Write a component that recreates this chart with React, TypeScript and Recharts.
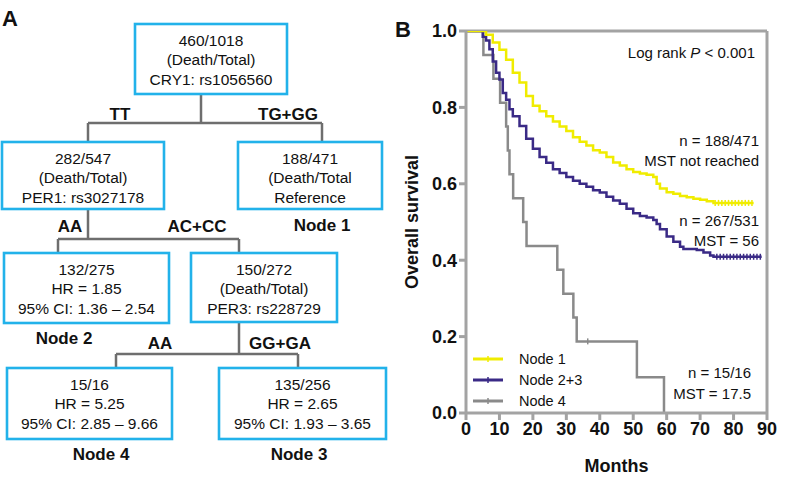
import React from "react";
import {
  ComposedChart,
  Line,
  Scatter,
  XAxis,
  YAxis,
  ReferenceLine,
  Legend,
  Label,
} from "recharts";

const YELLOW = "#f0ec00";
const PURPLE = "#3a2a86";
const GRAY = "#8a8a8a";
const AXIS = "#a3a3a3";
const CYAN = "#22b2ea";
const LINK = "#6e6e6e";
const FONT = "Arial, 'Liberation Sans', sans-serif";

const monthTicks = [0, 10, 20, 30, 40, 50, 60, 70, 80, 90];
const survTicks = [0, 0.2, 0.4, 0.6, 0.8, 1.0];

// Node 1 (TG+GG)
const node1 = [
  { m: 0, v: 1.0 }, { m: 6, v: 0.99 }, { m: 8, v: 0.97 }, { m: 10, v: 0.951 },
  { m: 12, v: 0.925 }, { m: 14, v: 0.891 }, { m: 16, v: 0.865 }, { m: 18, v: 0.83 },
  { m: 20, v: 0.804 }, { m: 22, v: 0.79 }, { m: 24, v: 0.777 }, { m: 26, v: 0.763 },
  { m: 28, v: 0.75 }, { m: 30, v: 0.738 }, { m: 32, v: 0.722 }, { m: 34, v: 0.71 },
  { m: 36, v: 0.7 }, { m: 38, v: 0.688 }, { m: 40, v: 0.682 }, { m: 42, v: 0.67 },
  { m: 44, v: 0.656 }, { m: 46, v: 0.648 }, { m: 48, v: 0.638 }, { m: 50, v: 0.631 },
  { m: 52, v: 0.627 }, { m: 54, v: 0.624 }, { m: 56, v: 0.618 }, { m: 57, v: 0.6 },
  { m: 58, v: 0.588 }, { m: 60, v: 0.578 }, { m: 62, v: 0.574 }, { m: 64, v: 0.568 },
  { m: 66, v: 0.565 }, { m: 68, v: 0.561 }, { m: 70, v: 0.558 }, { m: 72, v: 0.554 },
  { m: 74, v: 0.55 }, { m: 86, v: 0.55 },
];
const node1Censor = [74.5, 75.5, 76.5, 77.5, 78.5, 79.5, 80.5, 81.5, 82.5, 83.5, 84.5, 85.5].map((m) => ({ m, v: 0.55 }));

// Node 2+3
const node23 = [
  { m: 0, v: 1.0 }, { m: 4, v: 1.0 }, { m: 5, v: 0.985 }, { m: 6, v: 0.975 },
  { m: 7, v: 0.952 }, { m: 8, v: 0.92 }, { m: 9, v: 0.891 }, { m: 10, v: 0.873 },
  { m: 11, v: 0.838 }, { m: 12, v: 0.82 }, { m: 13, v: 0.795 }, { m: 14, v: 0.777 },
  { m: 16, v: 0.751 }, { m: 18, v: 0.718 }, { m: 20, v: 0.692 }, { m: 22, v: 0.67 },
  { m: 24, v: 0.655 }, { m: 26, v: 0.638 }, { m: 28, v: 0.628 }, { m: 30, v: 0.618 },
  { m: 32, v: 0.608 }, { m: 34, v: 0.6 }, { m: 36, v: 0.592 }, { m: 38, v: 0.583 },
  { m: 40, v: 0.577 }, { m: 42, v: 0.566 }, { m: 44, v: 0.556 }, { m: 46, v: 0.548 },
  { m: 48, v: 0.535 }, { m: 50, v: 0.523 }, { m: 52, v: 0.516 }, { m: 54, v: 0.512 },
  { m: 56, v: 0.505 }, { m: 57, v: 0.495 }, { m: 58, v: 0.481 }, { m: 60, v: 0.462 },
  { m: 62, v: 0.448 }, { m: 64, v: 0.435 }, { m: 65, v: 0.429 }, { m: 69, v: 0.427 },
  { m: 71, v: 0.42 }, { m: 73, v: 0.412 }, { m: 74, v: 0.409 }, { m: 88.4, v: 0.409 },
];
const node23Censor = [75, 76, 77, 78, 79, 80, 81, 82, 83, 84, 85, 86, 87, 88].map((m) => ({ m, v: 0.409 }));

// Node 4
const node4 = [
  { m: 0, v: 1.0 }, { m: 5.2, v: 0.9375 }, { m: 8.2, v: 0.875 }, { m: 10.2, v: 0.8125 },
  { m: 12, v: 0.75 }, { m: 12.5, v: 0.6875 }, { m: 13, v: 0.625 }, { m: 14.1, v: 0.5625 },
  { m: 17.1, v: 0.5 }, { m: 18.1, v: 0.4375 }, { m: 27.3, v: 0.375 }, { m: 29.1, v: 0.3125 },
  { m: 32.1, v: 0.25 }, { m: 33.1, v: 0.1875 }, { m: 51.1, v: 0.09375 }, { m: 59.2, v: 0 },
];
const node4Censor = [{ m: 36.4, v: 0.1875 }];

const legendItems = [
  { name: "Node 1", color: YELLOW },
  { name: "Node 2+3", color: PURPLE },
  { name: "Node 4", color: GRAY },
];

const notes = [
  { text: "n = 188/471", right: 759, cy: 141 },
  { text: "MST not reached", right: 759, cy: 161 },
  { text: "n = 267/531", right: 759, cy: 221 },
  { text: "MST = 56", right: 759, cy: 241 },
  { text: "n = 15/16", right: 751, cy: 373 },
  { text: "MST = 17.5", right: 751, cy: 394 },
];

// decision tree (panel A)
const boxes = [
  { x: 135, y: 24, w: 152, h: 70, lines: ["460/1018", "(Death/Total)", "CRY1: rs1056560"] },
  { x: 2, y: 142, w: 162, h: 67, lines: ["282/547", "(Death/Total)", "PER1: rs3027178"] },
  { x: 238, y: 142, w: 144, h: 67, lines: ["188/471", "(Death/Total", "Reference"] },
  { x: 4, y: 253, w: 165, h: 70, lines: ["132/275", "HR = 1.85", "95% CI: 1.36 \u2013 2.54"] },
  { x: 191, y: 253, w: 146, h: 69, lines: ["150/272", "(Death/Total)", "PER3: rs228729"] },
  { x: 7, y: 368, w: 165, h: 71, lines: ["15/16", "HR = 5.25", "95% CI: 2.85 \u2013 9.66"] },
  { x: 219, y: 368, w: 167, h: 71, lines: ["135/256", "HR = 2.65", "95% CI: 1.93 \u2013 3.65"] },
];

const links = [
  [201, 94, 201, 123], [88, 123, 322, 123], [88, 123, 88, 142], [322, 123, 322, 142],
  [88, 209, 88, 239], [58, 239, 239, 239], [58, 239, 58, 253], [239, 239, 239, 253],
  [239, 322, 239, 354], [116, 354, 298, 354], [116, 354, 116, 368], [298, 354, 298, 368],
];

const branchLabels = [
  { text: "TT", x: 120, cy: 114 },
  { text: "TG+GG", x: 288, cy: 114 },
  { text: "AA", x: 70, cy: 226 },
  { text: "AC+CC", x: 197, cy: 226 },
  { text: "AA", x: 160, cy: 343 },
  { text: "GG+GA", x: 280, cy: 343 },
];

const nodeLabels = [
  { text: "Node 1", x: 322, cy: 225 },
  { text: "Node 2", x: 64, cy: 338 },
  { text: "Node 4", x: 101, cy: 454 },
  { text: "Node 3", x: 299, cy: 454 },
];

function censorShape(color: string) {
  return (props: any) => (
    <line x1={props.cx} x2={props.cx} y1={props.cy - 3} y2={props.cy + 3} stroke={color} strokeWidth={1.5} />
  );
}

function TreePanel() {
  const fs = 15.5;
  return (
    <svg width={390} height={481} style={{ position: "absolute", left: 0, top: 0 }} fontFamily={FONT}>
      <text x={2} y={26} fontSize={22} fontWeight="bold" fill="#111">A</text>
      {links.map((l, i) => (
        <line key={i} x1={l[0]} y1={l[1]} x2={l[2]} y2={l[3]} stroke={LINK} strokeWidth={2.5} />
      ))}
      {boxes.map((b, i) => (
        <g key={i}>
          <rect x={b.x} y={b.y} width={b.w} height={b.h} fill="#fff" stroke={CYAN} strokeWidth={2.6} />
          {b.lines.map((t, j) => (
            <text key={j} x={b.x + b.w / 2} y={b.y + 16 + j * 19.5 + fs * 0.36} textAnchor="middle" fontSize={fs} fill="#111">
              {t}
            </text>
          ))}
        </g>
      ))}
      {branchLabels.concat(nodeLabels).map((t, i) => (
        <text key={i} x={t.x} y={t.cy + 17 * 0.36} textAnchor="middle" fontSize={17} fontWeight="bold" fill="#111">
          {t.text}
        </text>
      ))}
    </svg>
  );
}

function renderLegend() {
  return (
    <div style={{ fontFamily: FONT, fontSize: 14.5, color: "#111" }}>
      {legendItems.map((it) => (
        <div key={it.name} style={{ display: "flex", alignItems: "center", height: 21 }}>
          <svg width={32} height={10} style={{ marginRight: 15 }}>
            <line x1={1} x2={31} y1={5} y2={5} stroke={it.color} strokeWidth={3} />
            <line x1={16} x2={16} y1={2} y2={8} stroke={it.color} strokeWidth={1.5} />
          </svg>
          <span>{it.name}</span>
        </div>
      ))}
    </div>
  );
}

export default function App() {
  return (
    <div style={{ position: "absolute", left: 0, top: 0, width: 787, height: 481, background: "#fff", fontFamily: FONT }}>
      <TreePanel />
      <div style={{ position: "absolute", left: 390, top: 0 }}>
        <ComposedChart width={397} height={481} margin={{ top: 31, right: 20, bottom: 0, left: 0 }}>
          <XAxis
            dataKey="m"
            type="number"
            domain={[0, 90]}
            ticks={monthTicks}
            allowDataOverflow
            height={68}
            stroke={AXIS}
            strokeWidth={3}
            tickSize={7}
            tick={{ fill: "#111", fontSize: 18, fontWeight: "bold", fontFamily: FONT }}
          >
            <Label value="Months" position="insideBottom" offset={9} style={{ fill: "#111", fontSize: 18, fontWeight: "bold", fontFamily: FONT }} />
          </XAxis>
          <YAxis
            type="number"
            domain={[0, 1]}
            ticks={survTicks}
            allowDataOverflow
            width={76}
            stroke={AXIS}
            strokeWidth={3}
            tickSize={7}
            tickFormatter={(v: number) => v.toFixed(1)}
            tick={{ fill: "#111", fontSize: 18, fontWeight: "bold", fontFamily: FONT }}
          >
            <Label
              content={() => (
                <text x={22} y={222} transform="rotate(-90 22 222)" textAnchor="middle" fontSize={18} fontWeight="bold" fill="#111" fontFamily={FONT} dominantBaseline="central">
                  Overall survival
                </text>
              )}
            />
          </YAxis>
          <ReferenceLine y={1} stroke={AXIS} strokeWidth={3} />
          <ReferenceLine x={90} stroke={AXIS} strokeWidth={3} />
          <Line data={node4} dataKey="v" type="stepAfter" stroke={GRAY} strokeWidth={2.5} dot={false} isAnimationActive={false} name="Node 4" />
          <Line data={node23} dataKey="v" type="stepAfter" stroke={PURPLE} strokeWidth={2.5} dot={false} isAnimationActive={false} name="Node 2+3" />
          <Line data={node1} dataKey="v" type="stepAfter" stroke={YELLOW} strokeWidth={2.5} dot={false} isAnimationActive={false} name="Node 1" />
          <Scatter data={node1Censor} dataKey="v" shape={censorShape(YELLOW)} isAnimationActive={false} />
          <Scatter data={node23Censor} dataKey="v" shape={censorShape(PURPLE)} isAnimationActive={false} />
          <Scatter data={node4Censor} dataKey="v" shape={censorShape(GRAY)} isAnimationActive={false} />
          <Legend
            content={renderLegend}
            layout="vertical"
            align="center"
            verticalAlign="middle"
            wrapperStyle={{ left: 82, top: 348, width: 140 }}
          />
        </ComposedChart>
      </div>
      <svg width={30} height={40} style={{ position: "absolute", left: 393, top: 10 }}>
        <text x={2} y={27} fontSize={22} fontWeight="bold" fill="#111" fontFamily={FONT}>B</text>
      </svg>
      <div style={{ position: "absolute", top: 43, right: 787 - 755, fontSize: 15, lineHeight: "20px", color: "#111", whiteSpace: "nowrap" }}>
        Log rank <i>P</i> &lt; 0.001
      </div>
      {notes.map((n) => (
        <div key={n.text} style={{ position: "absolute", top: n.cy - 10, right: 787 - n.right, fontSize: 15, lineHeight: "20px", color: "#111", whiteSpace: "nowrap" }}>
          {n.text}
        </div>
      ))}
    </div>
  );
}
